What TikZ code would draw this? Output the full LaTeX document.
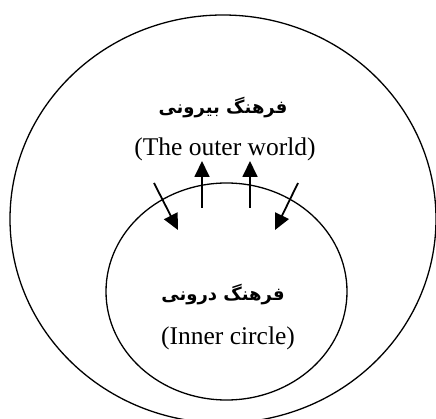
\documentclass[tikz,border=0pt]{standalone}
\usepackage{fontspec}
\setmainfont{Liberation Serif}
\newfontfamily\arabicfont[Script=Arabic]{DejaVu Sans}
\TeXXeTstate=1
\usetikzlibrary{arrows.meta,shapes.geometric}
\tikzset{
  ring/.style={draw, line width=1.3pt, ellipse, inner sep=0pt},
  fa/.style={font=\arabicfont\bfseries\fontsize{18}{21}\selectfont, inner sep=0pt},
  en/.style={font=\fontsize{25.5}{30}\selectfont, inner sep=0pt},
  flow/.style={line width=1.8pt, -{Triangle[length=16pt,width=15pt]}}
}
\begin{document}
\begin{tikzpicture}[x=1pt,y=-1pt]
\useasboundingbox (0,0) rectangle (436,419);
\node[ring, minimum width=426pt, minimum height=408pt] (outer) at (223,219) {};
\node[ring, minimum width=241pt, minimum height=217pt] (inner) at (226.5,291.5) {};
\node[fa] (outfa) at (223,108) {\beginR فرهنگ بیرونی\endR};
\node[en] (outen) at (225,149) {(The outer world)};
\node[fa] (infa) at (223,295) {\beginR فرهنگ درونی\endR};
\node[en] (inen) at (228,338) {(Inner circle)};
\coordinate (a1s) at (154,183); \coordinate (a1e) at (178,230);
\coordinate (a2s) at (202,208); \coordinate (a2e) at (202,161);
\coordinate (a3s) at (250,208); \coordinate (a3e) at (250,161);
\coordinate (a4s) at (298,183); \coordinate (a4e) at (275,230);
\draw[flow] (a1s) -- (a1e);
\draw[flow] (a2s) -- (a2e);
\draw[flow] (a3s) -- (a3e);
\draw[flow] (a4s) -- (a4e);
\end{tikzpicture}
\end{document}
